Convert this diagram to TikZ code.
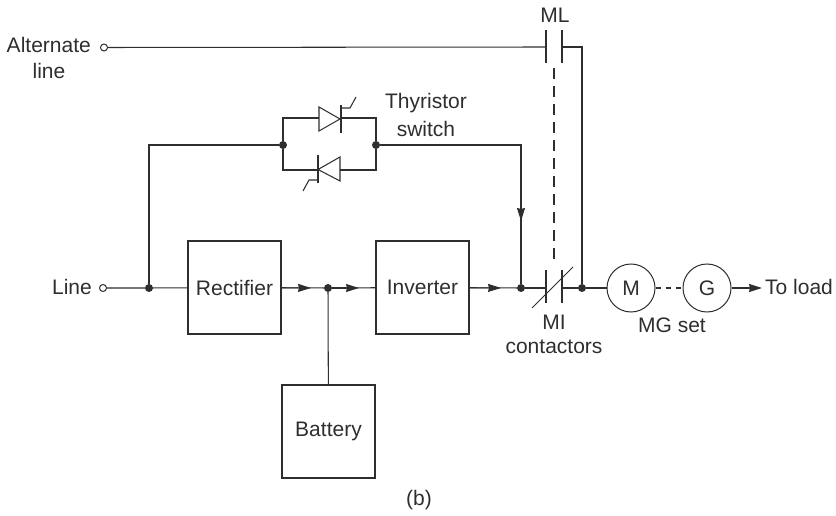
\documentclass[tikz,border=0pt]{standalone}
\usepackage{fontspec}
\setmainfont{Liberation Sans}
\usetikzlibrary{arrows.meta}
\definecolor{ink}{gray}{0.18}
\tikzset{
  x=1pt,y=-1pt,
  wire/.style={draw=ink,line width=1.05pt},
  blockbox/.style={draw=ink,line width=1.05pt,minimum width=93pt,minimum height=93pt,inner sep=0pt,text=ink,font=\fontsize{21}{24}\selectfont},
  machine/.style={draw=ink,line width=1pt,circle,minimum size=48pt,inner sep=0pt,text=ink,font=\fontsize{21}{24}\selectfont},
  lbl/.style={text=ink,inner sep=0pt,align=center,font=\fontsize{21}{24}\selectfont},
  dot/.style={circle,fill=ink,inner sep=0pt,minimum size=8pt},
  term/.style={circle,draw=ink,line width=1pt,fill=white,inner sep=0pt,minimum size=7pt},
  tip/.style={-{Stealth[length=13pt,width=8pt,inset=1pt]},shorten >=0pt},
  linkdash/.style={draw=ink,line width=1.05pt,dash pattern=on 11pt off 7pt},
}
\begin{document}
\begin{tikzpicture}
\useasboundingbox (0,0) rectangle (836,516);
% nodes
\node[blockbox] (rect) at (234.5,287.5) {Rectifier};
\node[blockbox] (inv) at (422.5,287.5) {Inverter};
\node[blockbox] (bat) at (328.5,431.5) {Battery};
\node[machine] (M) at (631,288) {M};
\node[machine] (G) at (707,288) {G};
\node[term] (tA) at (104,47.5) {};
\node[term] (tL) at (103,288) {};
\node[dot] (d1) at (149,288) {};
\node[dot] (d2) at (328,288) {};
\node[dot] (d3) at (521,288) {};
\node[dot] (d4) at (582,288) {};
\node[dot] (d5) at (283,145) {};
\node[dot] (d6) at (376,145) {};
\coordinate (mlL) at (546,47);
\coordinate (mlR) at (562,47);
\coordinate (miL) at (546,288);
\coordinate (miR) at (562,288);
\coordinate (out) at (762,288);
\coordinate (tsw) at (521,145);
\coordinate (ta1) at (311,288);
\coordinate (ta2) at (359,288);
\coordinate (ta3) at (501,288);
\coordinate (ta4) at (521,221);
% labels
\node[lbl,anchor=east] at (91,45) {Alternate};
\node[lbl] at (49,71) {line};
\node[lbl] at (555,15) {ML};
\node[lbl,anchor=east] at (92,287) {Line};
\node[lbl] at (426,103) {Thyristor};
\node[lbl] at (426,129) {switch};
\node[lbl] at (554,322) {MI};
\node[lbl] at (554,347) {contactors};
\node[lbl] at (672,325) {MG set};
\node[lbl,anchor=west] at (765,287) {To load};
\node[lbl] at (419,500) {(b)};
% alternate line
\draw[wire] (tA) -- (mlL);
\draw[wire] (mlR) -| (d4);
\draw[wire] (546,30) -- (546,63);
\draw[wire] (562,30) -- (562,63);
\draw[linkdash] (554,68) -- (554,262);
% line path
\draw[wire] (tL) -- (d1) -- (rect);
\draw[wire] (rect) -- (d2);
\draw[wire,tip] (rect) -- (ta1);
\draw[wire] (d2) -- (inv);
\draw[wire,tip] (d2) -- (ta2);
\draw[wire] (d2) -- (bat);
\draw[wire] (inv) -- (d3);
\draw[wire,tip] (inv) -- (ta3);
\draw[wire] (d3) -- (miL);
\draw[wire] (miR) -- (d4) -- (M);
\draw[linkdash,dash pattern=on 5pt off 5pt] (M) -- (G);
\draw[wire,tip] (G) -- (out);
% MI contact
\draw[wire] (546,270) -- (546,303);
\draw[wire] (562,270) -- (562,303);
\draw[wire] (532,308) -- (573,267);
% feed to thyristor
\draw[wire] (d1) |- (d5);
\draw[wire] (d6) -- (tsw) -- (d3);
\draw[wire,tip] (tsw) -- (ta4);
% thyristors
\draw[wire] (d5) |- (319,118);
\draw[wire] (341,118) -| (d6);
\draw[wire] (d5) |- (318,170);
\draw[wire] (340,170) -| (d6);
\draw[wire,line join=miter] (319,107) -- (319,131) -- (340,119) -- cycle;
\draw[wire] (341,105) -- (341,133);
\draw[wire] (341,108) -- (350,108) -- (356,97);
\draw[wire,line join=miter] (340,157) -- (340,181) -- (318,169.5) -- cycle;
\draw[wire] (318,155) -- (318,183);
\draw[wire] (318,180) -- (309,180) -- (303,191);
\end{tikzpicture}
\end{document}
